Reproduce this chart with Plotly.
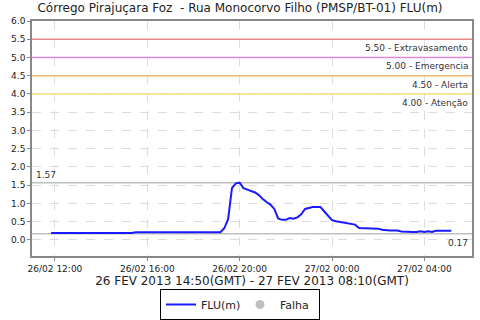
import plotly.graph_objects as go
import pandas as pd

start = "2013-02-26 11:50"
values = [0.19, 0.19, 0.19, 0.19, 0.19, 0.19, 0.19, 0.19, 0.19, 0.17,
          0.19, 0.19, 0.19, 0.19, 0.19, 0.17, 0.19, 0.19, 0.19, 0.19,
          0.19, 0.19, 0.21, 0.21, 0.21, 0.21, 0.21, 0.21, 0.19, 0.21,
          0.19, 0.21, 0.19, 0.19, 0.21, 0.21, 0.21, 0.21, 0.21, 0.21,
          0.21, 0.21, 0.21, 0.21, 0.21, 0.32, 0.57, 1.42, 1.55, 1.57,
          1.42, 1.38, 1.34, 1.30, 1.23, 1.12, 1.04, 0.97, 0.85, 0.59,
          0.55, 0.55, 0.60, 0.58, 0.62, 0.70, 0.85, 0.88, 0.90, 0.90,
          0.90, 0.78, 0.65, 0.54, 0.51, 0.49, 0.47, 0.47, 0.45, 0.42,
          0.33, 0.33, 0.31, 0.31, 0.31, 0.31, 0.28, 0.26, 0.26, 0.26,
          0.26, 0.23, 0.22, 0.22, 0.22, 0.22, 0.24, 0.22, 0.24, 0.22,
          0.25, 0.25, 0.25, 0.25, 0.25]
times = pd.date_range(start, periods=len(values), freq="10min")

levels = [5.5, 5.0, 4.5, 4.0]
level_names = ["Extravasamento", "Emergencia", "Alerta", "Atenção"]
level_colors = ["#E88A8A", "#DD88E8", "#FAB46E", "#F2E27A"]

vmax = max(values)
vmin = min(values)

x_range = ["2013-02-26 11:00:20", "2013-02-27 06:03:50"]
y_range = [-0.44, 6.0]

FONT = "DejaVu Sans"

fig = go.Figure()
fig.add_trace(go.Scatter(x=times, y=values, mode="lines", name="FLU(m)",
                         line=dict(color="#1A1AFF", width=2)))
fig.add_trace(go.Scatter(x=[None], y=[None], mode="markers", name="Falha",
                         marker=dict(color="#C0C0C0", size=9, symbol="circle")))

shapes = []
annotations = []
for lv, nm, col in zip(levels, level_names, level_colors):
    shapes.append(dict(type="line", xref="paper", x0=0, x1=1, yref="y", y0=lv, y1=lv,
                       line=dict(color=col, width=1.5), layer="above"))
    annotations.append(dict(xref="paper", x=0.995, yref="y", y=lv, text=f"{lv:.2f} - {nm}",
                            showarrow=False, xanchor="right", yanchor="top", yshift=-2,
                            font=dict(family=FONT, size=9, color="#333333")))
for v in (vmax, vmin):
    shapes.append(dict(type="line", xref="paper", x0=0, x1=1, yref="y", y0=v, y1=v,
                       line=dict(color="#C0C0C0", width=1.5), layer="below"))
annotations.append(dict(xref="paper", x=0.005, yref="y", y=vmax, text=f"{vmax:.2f}",
                        showarrow=False, xanchor="left", yanchor="bottom", yshift=1,
                        font=dict(family=FONT, size=9, color="#333333")))
annotations.append(dict(xref="paper", x=0.995, yref="y", y=vmin, text=f"{vmin:.2f}",
                        showarrow=False, xanchor="right", yanchor="top", yshift=-2,
                        font=dict(family=FONT, size=9, color="#333333")))

fig.update_layout(
    width=480, height=320,
    margin=dict(l=32, r=8, t=21, b=64, autoexpand=False),
    paper_bgcolor="white", plot_bgcolor="white",
    font=dict(family=FONT, size=10, color="#222222"),
    title=dict(text="Córrego Pirajuçara Foz \u00a0- Rua Monocorvo Filho (PMSP/BT-01) FLU(m)",
               x=0.5, xanchor="center", y=0.975, yanchor="middle",
               font=dict(family=FONT, size=12, color="#222222")),
    shapes=shapes, annotations=annotations,
    showlegend=True,
    legend=dict(orientation="h", x=0.5, xref="container", xanchor="center",
                y=0.0, yref="container", yanchor="bottom",
                bordercolor="black", borderwidth=1, bgcolor="white",
                font=dict(family=FONT, size=11, color="#222222"),
                itemwidth=30, entrywidth=34, entrywidthmode="pixels",
                tracegroupgap=0),
)
fig.update_xaxes(range=x_range, type="date", dtick=4 * 3600 * 1000,
                 tick0="2013-02-26 12:00", tickformat="%d/%m %H:%M",
                 showgrid=True, gridcolor="#DDDDDD", griddash="dash", gridwidth=1,
                 showline=True, linecolor="#888888", linewidth=1.5, mirror=True,
                 ticks="outside", ticklen=3, tickcolor="#888888",
                 tickfont=dict(family=FONT, size=9, color="#222222"),
                 title=dict(text="26 FEV 2013 14:50(GMT) - 27 FEV 2013 08:10(GMT)",
                            standoff=4, font=dict(family=FONT, size=12, color="#222222")),
                 zeroline=False)
fig.update_yaxes(range=y_range, dtick=0.5, tick0=0, tickformat=".1f",
                 showgrid=True, gridcolor="#DDDDDD", griddash="dash", gridwidth=1,
                 showline=True, linecolor="#888888", linewidth=1.5, mirror=True,
                 ticks="outside", ticklen=3, tickcolor="#888888",
                 tickfont=dict(family=FONT, size=9, color="#222222"),
                 zeroline=False)

fig.write_html("out.html")
